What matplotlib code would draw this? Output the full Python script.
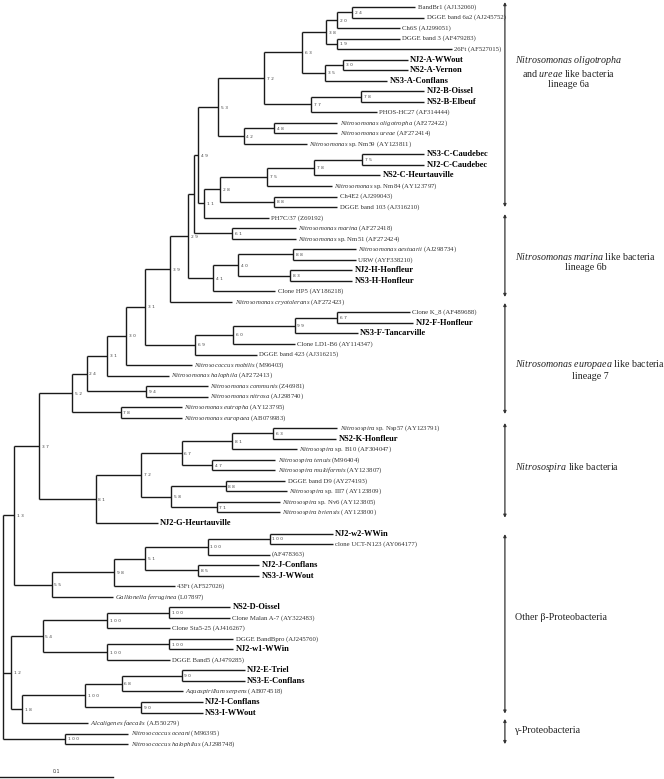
import re
import matplotlib
matplotlib.use("Agg")
import matplotlib.pyplot as plt

plt.rcParams['mathtext.fontset'] = 'custom'
plt.rcParams['mathtext.rm'] = 'Liberation Serif'
plt.rcParams['mathtext.it'] = 'Liberation Serif:italic'
plt.rcParams['mathtext.bf'] = 'Liberation Serif:bold'

# leaves, top to bottom (*...* = italic)
leaf_names = [
    "BandBr1 (AJ132060)", "DGGE band 6a2 (AJ245752)", "Ch6S (AJ299051)",
    "DGGE band 3 (AF479283)", "26Ft (AF527015)", "NJ2-A-WWout", "NS2-A-Vernon",
    "NS3-A-Conflans", "NJ2-B-Oissel", "NS2-B-Elbeuf", "PHOS-HC27 (AF314444)",
    "*Nitrosomonas oligotropha* (AF272422)", "*Nitrosomonas ureae* (AF272414)",
    "*Nitrosomonas* sp. Nm59 (AY123811)", "NS3-C-Caudebec", "NJ2-C-Caudebec",
    "NS2-C-Heurtauville", "*Nitrosomonas* sp. Nm84 (AY123797)", "Ch4E2 (AJ299043)",
    "DGGE band 103 (AJ316210)", "PH7C/37 (Z69192)", "*Nitrosomonas marina* (AF272418)",
    "*Nitrosomonas* sp. Nm51 (AF272424)", "*Nitrosomonas aestuarii* (AJ298734)",
    "URW (AYF338210)", "NJ2-H-Honfleur", "NS3-H-Honfleur", "Clone HP5 (AY186218)",
    "*Nitrosomonas cryotolerans* (AF272423)", "Clone K_8 (AF489688)", "NJ2-F-Honfleur",
    "NS3-F-Tancarville", "Clone LD1-B6 (AY114347)", "DGGE band 423 (AJ316215)",
    "*Nitrosococcus mobilis* (M96403)", "*Nitrosomonas halophila* (AF272413)",
    "*Nitrosomonas communis* (Z46981)", "*Nitrosomonas nitrosa* (AJ298740)",
    "*Nitrosomonas eutropha* (AY123795)", "*Nitrosomonas europaea* (AB079983)",
    "*Nitrosospira* sp. Nsp57 (AY123791)", "NS2-K-Honfleur",
    "*Nitrosospira* sp. B10 (AF304047)", "*Nitrosospira tenuis* (M96404)",
    "*Nitrosospira multiformis* (AY123807)", "DGGE band D9 (AY274193)",
    "*Nitrosospira* sp. III7 (AY123809)", "*Nitrosospira* sp. Nv6 (AY123805)",
    "*Nitrosospira briensis* (AY123800)", "NJ2-G-Heurtauville", "NJ2-w2-WWin",
    "clone UCT-N123 (AY064177)", "(AF478363)", "NJ2-J-Conflans", "NS3-J-WWout",
    "43Ft (AF527026)", "*Gallionella ferruginea* (L07897)", "NS2-D-Oissel",
    "Clone Malan A-7 (AY322483)", "Clone Sta5-25 (AJ416267)", "DGGE BandBpro (AJ245760)",
    "NJ2-w1-WWin", "DGGE Band5 (AJ479285)", "NJ2-E-Triel", "NS3-E-Conflans",
    "*Aquaspirillum serpens* (AB074518)", "NJ2-I-Conflans", "NS3-I-WWout",
    "*Alcaligenes faecalis* (AJ550279)", "*Nitrosococcus oceani* (M96395)",
    "*Nitrosococcus halophilus* (AJ298748)",
]

# distance of each tip from the root
tip_depth = [
    0.365, 0.373, 0.351, 0.351, 0.397, 0.358, 0.358, 0.340, 0.373, 0.373,
    0.331, 0.296, 0.296, 0.269, 0.373, 0.373, 0.334, 0.291, 0.296, 0.296,
    0.235, 0.259, 0.259, 0.312, 0.312, 0.309, 0.309, 0.241, 0.203, 0.360,
    0.363, 0.314, 0.258, 0.225, 0.167, 0.147, 0.181, 0.181, 0.158, 0.158,
    0.296, 0.295, 0.260, 0.241, 0.241, 0.250, 0.251, 0.245, 0.245, 0.137,
    0.292, 0.292, 0.236, 0.227, 0.227, 0.152, 0.097, 0.201, 0.201, 0.148,
    0.204, 0.204, 0.148, 0.214, 0.214, 0.159, 0.177, 0.177, 0.075, 0.111,
    0.111,
]

# topology: newick on leaf indices, "bootstrap:depth" after each clade (depth from root)
c20 = "((0,1)24:0.309,2)20:0.296"
c38 = f"({c20},(3,4)19:0.296)38:0.286"
c63 = f"({c38},((5,6)30:0.301,7)35:0.285)63:0.265"
c72 = f"({c63},((8,9)78:0.317,10)77:0.273)72:0.231"
c53 = f"({c72},((11,12)48:0.240,13)42:0.213)53:0.190"
c75 = "(((14,15)75:0.318,16)78:0.275,17)75:0.234"
c28 = f"({c75},(18,19)88:0.240)28:0.192"
c49 = f"({c53},({c28},20)11:0.178)49:0.173"
cx = f"({c49},(21,22)61:0.203):0.169"
c41 = "(((23,24)88:0.257,(25,26)83:0.254)40:0.208,27)41:0.186"
c39 = f"(({cx},{c41})29:0.164,28)39:0.148"
c69 = "((((29,30)67:0.296,31)99:0.258,32)60:0.204,33)69:0.170"
c31 = f"((({c39},{c69})31:0.126,34)30:0.109,35)31:0.092"
c52 = f"(({c31},(36,37)94:0.127)24:0.074,(38,39)78:0.104)52:0.061"
c67 = "(((40,41)63:0.239,42)81:0.203,(43,44)47:0.185)67:0.158"
c58 = "((45,46)88:0.197,(47,48)71:0.189)58:0.149"
c37 = f"({c52},(({c67},{c58})72:0.122,49)81:0.082)37:0.032"
c51 = "(((50,51)100:0.236,52)100:0.181,(53,54)85:0.173)51:0.126"
c55 = f"(({c51},55)98:0.098,56)55:0.043"
c54 = "(((57,58)100:0.147,59)100:0.092,((60,61)100:0.147,62)100:0.092)54:0.035"
c18 = "((((63,64)90:0.158,65)68:0.105,(66,67)90:0.122)100:0.073,68)18:0.017"
tree = f"(({c37},{c55})13:0.010,({c54},{c18})12:0.007,(69,70)100:0.055):0"

# side brackets: label, first / last row covered
groups = [
    ("$\\mathit{Nitrosomonas\\ oligotropha}$\nand $\\mathit{ureae}$ like bacteria\nlineage 6a", -0.47, 19.0, 6.1),
    ("$\\mathit{Nitrosomonas\\ marina}$ like bacteria\nlineage 6b", 19.66, 27.54, 24.2),
    ("$\\mathit{Nitrosomonas\\ europaea}$ like bacteria\nlineage 7", 28.1, 38.65, 34.4),
    ("$\\mathit{Nitrosospira}$ like bacteria", 39.5, 48.5, 43.7),
    ("Other β-Proteobacteria", 50.05, 67.1, 58.0),
    ("γ-Proteobacteria", 67.6, 70.0, 68.75),
]


def parse(s):
    pos = 0
    lab = re.compile(r"(\d*):([\d.]+)")
    num = re.compile(r"\d+")

    def node():
        nonlocal pos
        if s[pos] == "(":
            pos += 1
            kids = [node()]
            while s[pos] == ",":
                pos += 1
                kids.append(node())
            pos += 1
            m = lab.match(s, pos)
            pos = m.end()
            return {"kids": kids, "sup": m.group(1), "x": float(m.group(2))}
        m = num.match(s, pos)
        pos = m.end()
        i = int(m.group())
        return {"leaf": i, "x": tip_depth[i], "y": i}
    return node()


def fmt(name):
    return re.sub(r"\*(.+?)\*", lambda m: "$\\mathit{" + m.group(1).replace(" ", "\\ ") + "}$", name)


fig = plt.figure(figsize=(6.64, 7.79), dpi=100)
ax = fig.add_axes([0, 0, 1, 1])
ax.set_xlim(-0.00265, 0.585)
ax.set_ylim(73.31, -0.665)
ax.axis("off")

lc = "#1a1a1a"


def draw(n):
    if "leaf" in n:
        name = leaf_names[n["leaf"]]
        if name.startswith(("NJ2", "NS2", "NS3")):
            ax.text(n["x"] + 0.002, n["y"], name, fontsize=6, fontweight="bold",
                    family="Liberation Serif", va="center", ha="left", color="black")
        else:
            ax.text(n["x"] + 0.002, n["y"], fmt(name), fontsize=4.9,
                    family="Liberation Serif", va="center", ha="left", color="#333333")
        return
    for k in n["kids"]:
        draw(k)
    ys = [k["y"] for k in n["kids"]]
    n["y"] = (ys[0] + ys[-1]) / 2
    ax.plot([n["x"], n["x"]], [ys[0], ys[-1]], color=lc, lw=1.0, solid_capstyle="butt")
    for k in n["kids"]:
        ax.plot([n["x"], k["x"]], [k["y"], k["y"]], color=lc, lw=1.0, solid_capstyle="butt")
    if n["sup"]:
        ax.text(n["x"] + 0.0025, n["y"] + 0.05, " ".join(n["sup"]), fontsize=3.2,
                family="DejaVu Sans", va="center", ha="left", color="#444444")


draw(parse(tree))

bx = 0.4442
for label, y0, y1, ty in groups:
    ax.annotate("", xy=(bx, y0), xytext=(bx, y1),
                arrowprops=dict(arrowstyle="<|-|>", color="#333333", lw=0.9,
                                mutation_scale=4, shrinkA=0, shrinkB=0))
    ax.text(0.4531, ty, label, fontsize=7.2, family="Liberation Serif", ha="left",
            va="center", multialignment="center", linespacing=1.15, color="#222222")

# scale bar
ax.plot([-0.00265, 0.09735], [73.12, 73.12], color=lc, lw=1.0, clip_on=False)
ax.text(0.0474, 72.6, "0.1", fontsize=3.4, family="DejaVu Sans", ha="center",
        va="center", color="#333333")

fig.savefig("out.png", dpi=100)
